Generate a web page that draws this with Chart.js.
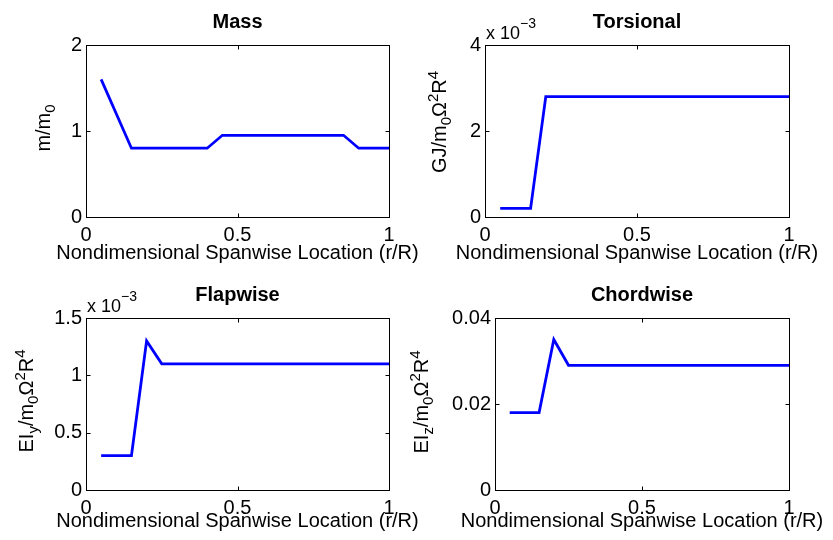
<!DOCTYPE html>
<html><head><meta charset="utf-8">
<script src="https://cdn.jsdelivr.net/npm/chart.js@4/dist/chart.umd.min.js"></script>
<style>
html,body{margin:0;padding:0;background:#fff;width:833px;height:540px;overflow:hidden}
canvas{position:absolute;display:block}
</style></head><body>
<canvas id="c1" width="432" height="270" style="left:0;top:0"></canvas>
<canvas id="c2" width="437" height="270" style="left:396px;top:0"></canvas>
<canvas id="c3" width="432" height="270" style="left:0;top:270px"></canvas>
<canvas id="c4" width="437" height="270" style="left:396px;top:270px"></canvas>
<script>
// ---- data ----
const massX  = [0.05, 0.15, 0.40, 0.45, 0.85, 0.90, 1.00];
const massY  = [1.60, 0.80, 0.80, 0.95, 0.95, 0.80, 0.80];
const torsX  = [0.05, 0.15, 0.20, 1.00];
const torsY  = [0.0002, 0.0002, 0.0028, 0.0028];
const flapX  = [0.05, 0.15, 0.20, 0.25, 1.00];
const flapY  = [0.0003, 0.0003, 0.0013, 0.0011, 0.0011];
const chordX = [0.05, 0.15, 0.20, 0.25, 1.00];
const chordY = [0.018, 0.018, 0.035, 0.029, 0.029];

const xTicks = [0, 0.5, 1];
const xTickLabels = ['0', '0.5', '1'];
const massTicks = [0, 1, 2];
const massTickLabels = ['0', '1', '2'];
const torsTicks = [0, 0.002, 0.004];
const torsTickLabels = ['0', '2', '4'];
const flapTicks = [0, 0.0005, 0.001, 0.0015];
const flapTickLabels = ['0', '0.5', '1', '1.5'];
const chordTicks = [0, 0.02, 0.04];
const chordTickLabels = ['0', '0.02', '0.04'];

const titles = ['Mass', 'Torsional', 'Flapwise', 'Chordwise'];
const xTitle = 'Nondimensional Spanwise Location (r/R)';
// y-axis labels: [text, style] where style 0 = normal, -1 = subscript, 1 = superscript
const massYLabel  = [['m/m', 0], ['0', -1]];
const torsYLabel  = [['GJ/m', 0], ['0', -1], ['Ω', 0], ['2', 1], ['R', 0], ['4', 1]];
const flapYLabel  = [['EI', 0], ['y', -1], ['/m', 0], ['0', -1], ['Ω', 0], ['2', 1], ['R', 0], ['4', 1]];
const chordYLabel = [['EI', 0], ['z', -1], ['/m', 0], ['0', -1], ['Ω', 0], ['2', 1], ['R', 0], ['4', 1]];
const multiplier = ['x 10', '−3'];

// ---- drawing ----
const FAM = '"Liberation Sans", Arial, Helvetica, sans-serif';
const F = 20;

function drawYLabel(ctx, parts, xBase, yCenter) {
  ctx.save();
  const fonts = {0: F + 'px ' + FAM, 1: '15px ' + FAM, '-1': '15px ' + FAM};
  let total = 0;
  parts.forEach(p => { ctx.font = fonts[p[1]]; total += ctx.measureText(p[0]).width; });
  ctx.translate(xBase, yCenter);
  ctx.rotate(-Math.PI / 2);
  ctx.fillStyle = '#000';
  ctx.textBaseline = 'alphabetic';
  ctx.textAlign = 'left';
  let x = -total / 2;
  parts.forEach(p => {
    ctx.font = fonts[p[1]];
    const dy = p[1] === -1 ? 5 : (p[1] === 1 ? -8 : 0);
    ctx.fillText(p[0], x, dy);
    x += ctx.measureText(p[0]).width;
  });
  ctx.restore();
}

function makeChart(id, W, H, area, xs, ys, yMax, yTicks, yTickLabels, title, yLabel, yLabelPos, mult, xTitleBase) {
  const framePlugin = {
    id: 'frame' + id,
    afterDraw(chart) {
      const ctx = chart.ctx;
      const a = chart.chartArea;
      ctx.save();
      ctx.strokeStyle = '#000';
      ctx.lineWidth = 1;
      const L = Math.round(a.left) + 0.5, R = Math.round(a.right) + 0.5;
      const T = Math.round(a.top) + 0.5, B = Math.round(a.bottom) + 0.5;
      ctx.strokeRect(L, T, R - L, B - T);
      const tl = 4;
      ctx.beginPath();
      const xs_ = chart.scales.x, ys_ = chart.scales.y;
      xTicks.forEach(v => {
        const px = Math.round(xs_.getPixelForValue(v)) + 0.5;
        ctx.moveTo(px, B); ctx.lineTo(px, B - tl);
        ctx.moveTo(px, T); ctx.lineTo(px, T + tl);
      });
      yTicks.forEach(v => {
        const py = Math.round(ys_.getPixelForValue(v)) + 0.5;
        ctx.moveTo(L, py); ctx.lineTo(L + tl, py);
        ctx.moveTo(R, py); ctx.lineTo(R - tl, py);
      });
      ctx.stroke();
      ctx.fillStyle = '#000';
      ctx.textBaseline = 'alphabetic';
      // title
      ctx.font = 'bold ' + F + 'px ' + FAM;
      ctx.textAlign = 'center';
      ctx.fillText(title, (a.left + a.right) / 2, a.top - 17);
      // x-axis title
      ctx.font = F + 'px ' + FAM;
      ctx.fillText(xTitle, (a.left + a.right) / 2, xTitleBase);
      // multiplier
      if (mult) {
        ctx.textAlign = 'left';
        ctx.font = '18px ' + FAM;
        ctx.fillText(mult[0], a.left + 1, a.top - 6);
        const w = ctx.measureText(mult[0]).width;
        ctx.font = '14px ' + FAM;
        ctx.fillText(mult[1], a.left + 1 + w, a.top - 17);
      }
      ctx.restore();
      drawYLabel(ctx, yLabel, yLabelPos[0], yLabelPos[1]);
    }
  };
  const font = {family: FAM, size: F};
  return new Chart(document.getElementById(id), {
    type: 'line',
    data: {
      datasets: [{
        data: xs.map((x, i) => ({x: x, y: ys[i]})),
        borderColor: '#0000ff',
        borderWidth: 2.8,
        pointRadius: 0,
        tension: 0,
        fill: false
      }]
    },
    options: {
      responsive: false,
      animation: false,
      devicePixelRatio: 1,
      layout: {padding: {left: 0, top: area.top, right: W - area.right, bottom: 0}},
      plugins: {legend: {display: false}, title: {display: false}, tooltip: {enabled: false}},
      scales: {
        x: {
          type: 'linear', min: 0, max: 1,
          afterBuildTicks: s => { s.ticks = xTicks.map(v => ({value: v})); },
          afterFit: s => { s.height = H - area.bottom; },
          grid: {display: false, drawTicks: false},
          border: {display: false},
          ticks: {color: '#000', font: font, padding: 6, maxRotation: 0, autoSkip: false,
                   callback: (v, i) => xTickLabels[i]},
          title: {display: false}
        },
        y: {
          type: 'linear', min: 0, max: yMax,
          afterBuildTicks: s => { s.ticks = yTicks.map(v => ({value: v})); },
          afterFit: s => { s.width = area.left; },
          grid: {display: false, drawTicks: false},
          border: {display: false},
          ticks: {color: '#000', font: font, padding: 4, autoSkip: false,
                  callback: (v, i) => yTickLabels[i]}
        }
      }
    },
    plugins: [framePlugin]
  });
}

makeChart('c1', 432, 270, {left: 86, top: 45, right: 389, bottom: 217}, massX, massY, 2,
  massTicks, massTickLabels, titles[0], massYLabel, [50, 128], null, 259);
makeChart('c2', 437, 270, {left: 89, top: 45, right: 393, bottom: 217}, torsX, torsY, 0.004,
  torsTicks, torsTickLabels, titles[1], torsYLabel, [50, 122], multiplier, 259);
makeChart('c3', 432, 270, {left: 86, top: 48, right: 389, bottom: 220}, flapX, flapY, 0.0015,
  flapTicks, flapTickLabels, titles[2], flapYLabel, [33, 131], multiplier, 257);
makeChart('c4', 437, 270, {left: 99, top: 48, right: 393, bottom: 220}, chordX, chordY, 0.04,
  chordTicks, chordTickLabels, titles[3], chordYLabel, [32, 132], null, 257);
</script>
</body></html>
